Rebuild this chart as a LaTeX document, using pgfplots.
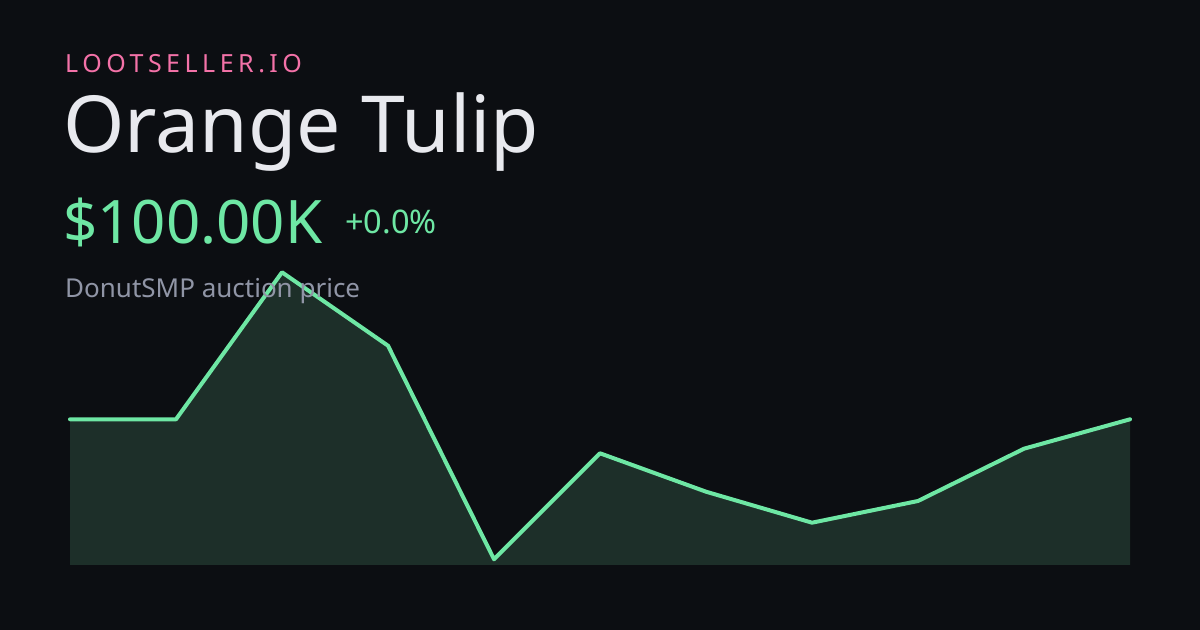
\documentclass[border=0pt]{standalone}
\usepackage{pgfplots}
\pgfplotsset{compat=1.18}
\usepackage{fontspec}
\setmainfont{Noto Sans}
\newfontfamily\tracked[LetterSpace=18]{Noto Sans}

\definecolor{bg}{HTML}{0C0E12}
\definecolor{brand}{HTML}{F472A8}
\definecolor{titlec}{HTML}{E8E9EE}
\definecolor{up}{HTML}{6EE7A4}
\definecolor{sub}{HTML}{9095A6}
\definecolor{area}{HTML}{1D2F29}

% price history, in pixel units above the baseline
\pgfplotstableread{
i  v
0  145.7
1  145.7
2  292.7
3  219.3
4  5.7
5  111.7
6  73.3
7  42.3
8  64.0
9  116.3
10 145.7
}\pricedata

\begin{document}
\begin{tikzpicture}[x=1bp,y=1bp]
\fill[bg] (0,0) rectangle (1200,630);
\useasboundingbox (0,0) rectangle (1200,630);

\begin{axis}[
    at={(70bp,65bp)}, anchor=south west,
    x=106bp, y=1bp,
    xmin=0, xmax=10, ymin=0, ymax=300,
    hide axis, clip=false,
]
\addplot[draw=none, fill=area] table[x=i, y=v] {\pricedata} \closedcycle;
\addplot[up, line width=4bp, line join=round, line cap=round] table[x=i, y=v] {\pricedata};
\end{axis}

\node[anchor=base west, inner sep=0, text=brand]
  at (65,557) {\fontsize{25bp}{30bp}\tracked LOOTSELLER.IO};
\node[anchor=base west, inner sep=0, text=titlec]
  at (63,477) {\fontsize{78.7bp}{94bp}\selectfont Orange Tulip};
\node[anchor=base west, inner sep=0, text=up]
  at (63,386) {\fontsize{60bp}{72bp}\selectfont \$100.00K};
\node[anchor=base west, inner sep=0, text=up]
  at (345,396.5) {\fontsize{32.5bp}{40bp}\selectfont +0.0\%};
\node[anchor=base west, inner sep=0, text=sub]
  at (65,332) {\fontsize{26bp}{32bp}\selectfont DonutSMP auction price};
\end{tikzpicture}
\end{document}
